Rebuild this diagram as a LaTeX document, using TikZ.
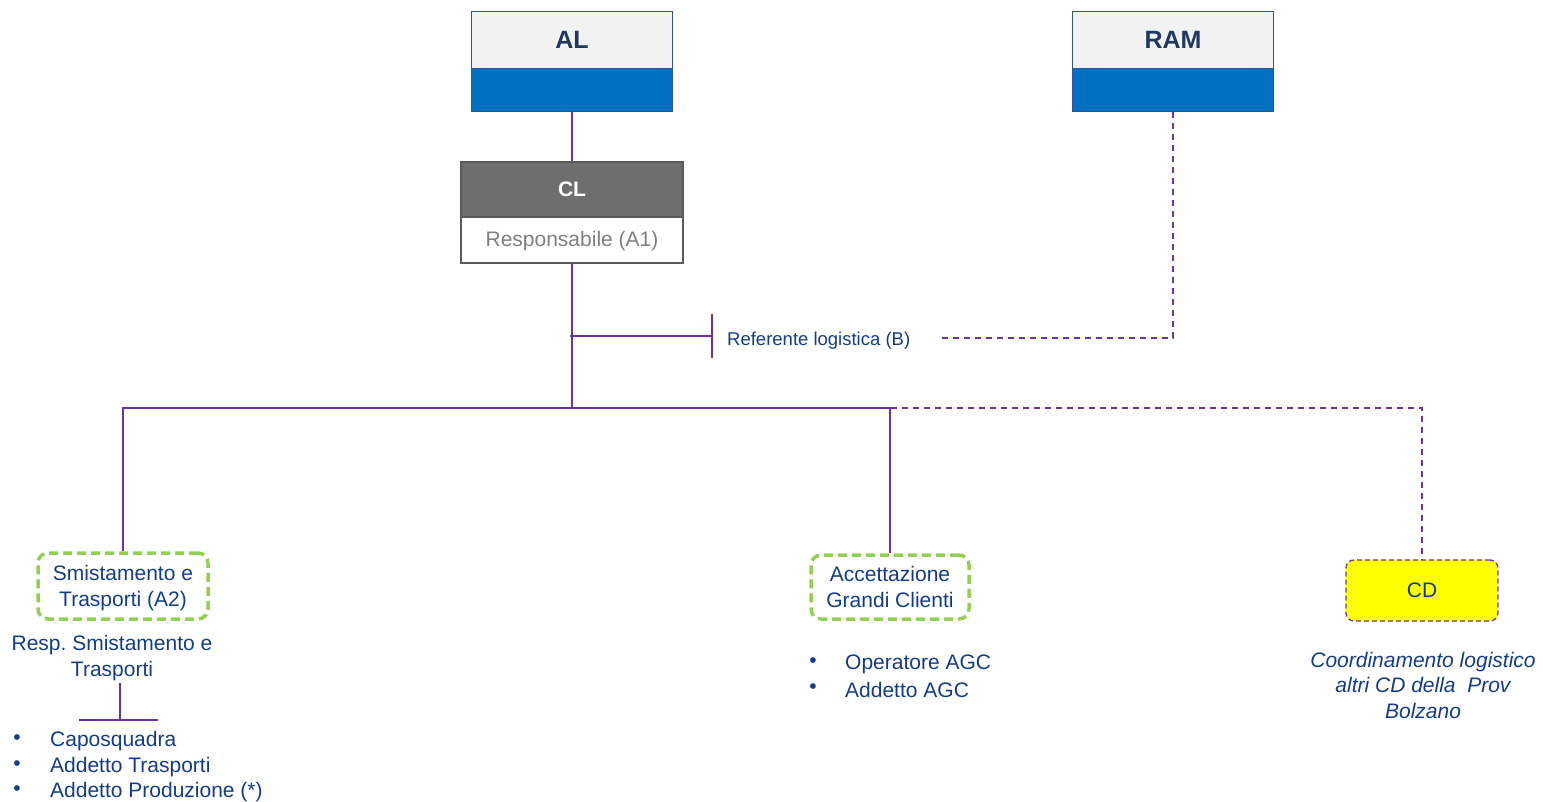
\documentclass[tikz,border=0pt]{standalone}
\usepackage{fontspec}
\setmainfont{Liberation Sans}
\definecolor{hdrgray}{HTML}{F2F2F2}
\definecolor{hdrblue}{HTML}{0070C0}
\definecolor{hdrline}{HTML}{2F5597}
\definecolor{navy}{HTML}{1F3864}
\definecolor{clgray}{HTML}{6E6E6E}
\definecolor{clline}{HTML}{595959}
\definecolor{respgray}{HTML}{7F7F7F}
\definecolor{txtblue}{HTML}{123C8C}
\definecolor{relpurple}{HTML}{7030A0}
\definecolor{grpgreen}{HTML}{92D050}
\definecolor{cdyellow}{HTML}{FFFF00}

\begin{document}
\begin{tikzpicture}[x=1pt,y=-1pt,
    hdr/.style={draw=hdrline, fill=hdrgray, minimum width=201pt, minimum height=57pt, text=navy, font=\fontsize{25}{30}\selectfont\bfseries},
    hdrbar/.style={draw=hdrline, fill=hdrblue, minimum width=201pt, minimum height=43pt},
    cltop/.style={draw=clline, fill=clgray, line width=2.5pt, minimum width=222pt, minimum height=55pt, text=white, font=\fontsize{21}{25}\selectfont\bfseries},
    clbot/.style={draw=clline, fill=white, line width=2.5pt, minimum width=222pt, minimum height=46pt, text=respgray, font=\fontsize{21}{25}\selectfont},
    grp/.style={draw=grpgreen, line width=3.5pt, dash pattern=on 9pt off 5pt, rounded corners=10pt, align=center, text=txtblue, font=\fontsize{21}{26}\selectfont},
    cdbox/.style={draw=relpurple, fill=cdyellow, line width=1.3pt, dash pattern=on 5pt off 3pt, rounded corners=8pt, minimum width=152pt, minimum height=61pt, text=txtblue, font=\fontsize{21}{25}\selectfont},
    lbl/.style={inner sep=0pt, text=txtblue, font=\fontsize{21}{25.5}\selectfont},
    blt/.style={inner sep=0pt, text=txtblue, font=\fontsize{21}{25}\selectfont},
    rel/.style={draw=relpurple, line width=2pt},
    relthin/.style={draw=relpurple, line width=1.5pt},
    reldash/.style={draw=relpurple, line width=1.5pt, dash pattern=on 6pt off 5pt}]
  \useasboundingbox (0,0) rectangle (1543,802);

  \node[hdr] (alTop) at (572,39.5) {AL}; \node[hdrbar] (alBot) at (572,89.5) {};
  \node[hdr] (ramTop) at (1173,39.5) {RAM}; \node[hdrbar] (ramBot) at (1173,89.5) {};
  \node[cltop] (clTop) at (572,189.5) {CL}; \node[clbot, text depth=2pt] (clBot) at (572,240) {Responsabile (A1)};

  \node[lbl, anchor=west, font=\fontsize{18.5}{22}\selectfont] (ref) at (727,341) {Referente logistica (B)};

  \node[grp, minimum width=170pt, minimum height=66pt, text depth=-1.5pt] (smi) at (123,586) {Smistamento e\\Trasporti (A2)};
  \node[grp, minimum width=158pt, minimum height=64pt, text depth=-5pt] (acc) at (890,587) {Accettazione\\Grandi Clienti};
  \node[cdbox] (cd) at (1422,590.5) {CD};

  \node[lbl, align=center] (resp) at (112,658) {Resp.\ Smistamento e\\Trasporti};
  \node[blt] (b1) at (17,740) {•}; \node[lbl, anchor=west] (capo) at (50,741) {Caposquadra};
  \node[blt] (b2) at (17,766) {•}; \node[lbl, anchor=west] (addTr) at (50,767) {Addetto Trasporti};
  \node[blt] (b3) at (17,791) {•}; \node[lbl, anchor=west] (addPr) at (50,792) {Addetto Produzione (*)};
  \node[blt] (b4) at (813,663) {•}; \node[lbl, anchor=west] (opAgc) at (845,664) {Operatore AGC};
  \node[blt] (b5) at (813,689) {•}; \node[lbl, anchor=west] (addAgc) at (845,690) {Addetto AGC};
  \node[lbl, align=center, font=\fontsize{21}{25.5}\selectfont\itshape] (coord) at (1423,685) {Coordinamento logistico\\altri CD della\ \ Prov\\Bolzano};

  \coordinate (hub) at (572,408); \coordinate (refJoin) at (570,336); \coordinate (refTick) at (712,336);
  \coordinate (tickT) at (712,314); \coordinate (tickB) at (712,358); \coordinate (refEnd) at (942,338);
  \coordinate (teeTop) at (120,683); \coordinate (teeL) at (79,720); \coordinate (teeR) at (158,720);

  \draw[reldash] (hub) -| (cd.north);
  \draw[reldash] (refEnd) -| (ramBot.south);
  \draw[rel] (alBot.south) -- (clTop.north);
  \draw[rel] (clBot.south) -- (hub);
  \draw[rel] (smi.north) |- (hub) -| (acc.north);
  \draw[relthin] (refJoin) -- (refTick);
  \draw[relthin] (tickT) -- (tickB);
  \draw[relthin] (teeTop) -- (teeTop |- teeL);
  \draw[relthin] (teeL) -- (teeR);
\end{tikzpicture}
\end{document}
